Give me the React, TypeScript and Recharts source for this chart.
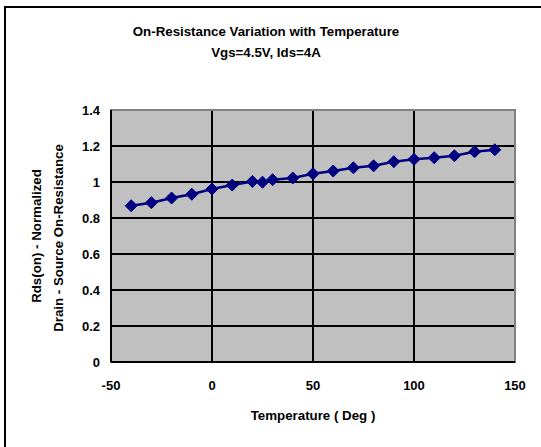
import React from "react";
import {
  LineChart,
  CartesianGrid,
  XAxis,
  YAxis,
  Line,
  ReferenceArea,
} from "recharts";

const temps = [-40, -30, -20, -10, 0, 10, 20, 25, 30, 40, 50, 60, 70, 80, 90, 100, 110, 120, 130, 140];
const rdsOn = [0.868, 0.885, 0.911, 0.932, 0.961, 0.983, 1.003, 0.999, 1.013, 1.022, 1.046, 1.061, 1.079, 1.09, 1.113, 1.126, 1.135, 1.146, 1.168, 1.179];
const xTicks = [-50, 0, 50, 100, 150];
const yTicks = [0, 0.2, 0.4, 0.6, 0.8, 1, 1.2, 1.4];

const font = '"Liberation Sans", Arial, sans-serif';

const Diamond = (props: any) => {
  const { cx, cy, index } = props;
  const s = 6;
  return (
    <polygon
      key={"d" + index}
      points={`${cx},${cy - s} ${cx + s},${cy} ${cx},${cy + s} ${cx - s},${cy}`}
      fill="#000080"
      stroke="#000080"
    />
  );
};

const App = () => {
  const data = temps.map((t, i) => ({ temp: t, value: rdsOn[i] }));
  const tickStyle = { fill: "#000", fontSize: 13, fontWeight: "bold", fontFamily: font };
  const textBox = {
    position: "absolute" as const,
    textAlign: "center" as const,
    fontSize: 13.3,
    fontWeight: "bold",
    lineHeight: "16px",
  };

  return (
    <div
      style={{
        position: "absolute",
        left: 0,
        top: 0,
        width: 541,
        height: 447,
        overflow: "hidden",
        background: "#fff",
        fontFamily: font,
      }}
    >
      <div
        style={{
          position: "absolute",
          left: 4,
          top: 6,
          width: 600,
          height: 500,
          borderTop: "2px solid #000",
          borderLeft: "2px solid #000",
        }}
      />
      <div style={{ ...textBox, left: 0, top: 24, width: 532 }}>
        On-Resistance Variation with Temperature
      </div>
      <div style={{ ...textBox, left: 0, top: 45, width: 532 }}>
        Vgs=4.5V, Ids=4A
      </div>
      <div
        style={{
          ...textBox,
          left: 37 - 150,
          top: 236 - 8,
          width: 300,
          transform: "rotate(-90deg)",
        }}
      >
        Rds(on) - Normalized
      </div>
      <div
        style={{
          ...textBox,
          left: 59 - 150,
          top: 238 - 8,
          width: 300,
          transform: "rotate(-90deg)",
        }}
      >
        Drain - Source On-Resistance
      </div>
      <div style={{ ...textBox, left: 113, top: 408, width: 400 }}>
        Temperature ( Deg )
      </div>
      <div style={{ position: "absolute", left: 0, top: 0 }}>
        <LineChart
          width={541}
          height={447}
          data={data}
          margin={{ top: 110, right: 26, left: 11, bottom: 55 }}
        >
          <CartesianGrid
            fill="#C0C0C0"
            stroke="#000"
            strokeWidth={2}
            horizontalValues={[0.2, 0.4, 0.6, 0.8, 1, 1.2]}
            verticalValues={[0, 50, 100]}
          />
          <ReferenceArea
            x1={-50}
            x2={150}
            y1={0}
            y2={1.4}
            fill="none"
            fillOpacity={0}
            stroke="#808080"
            strokeWidth={2}
            ifOverflow="visible"
          />
          <XAxis
            dataKey="temp"
            type="number"
            domain={[-50, 150]}
            ticks={xTicks}
            height={30}
            tickLine={false}
            tickSize={0}
            tickMargin={19}
            axisLine={{ stroke: "#000", strokeWidth: 2 }}
            tick={tickStyle}
          />
          <YAxis
            type="number"
            domain={[0, 1.4]}
            ticks={yTicks}
            width={100}
            tickLine={false}
            tickSize={0}
            tickMargin={11}
            axisLine={{ stroke: "#000", strokeWidth: 2 }}
            tick={tickStyle}
          />
          <Line
            dataKey="value"
            stroke="#000080"
            strokeWidth={2.5}
            dot={Diamond}
            activeDot={false}
            isAnimationActive={false}
          />
        </LineChart>
      </div>
    </div>
  );
};

export default App;
